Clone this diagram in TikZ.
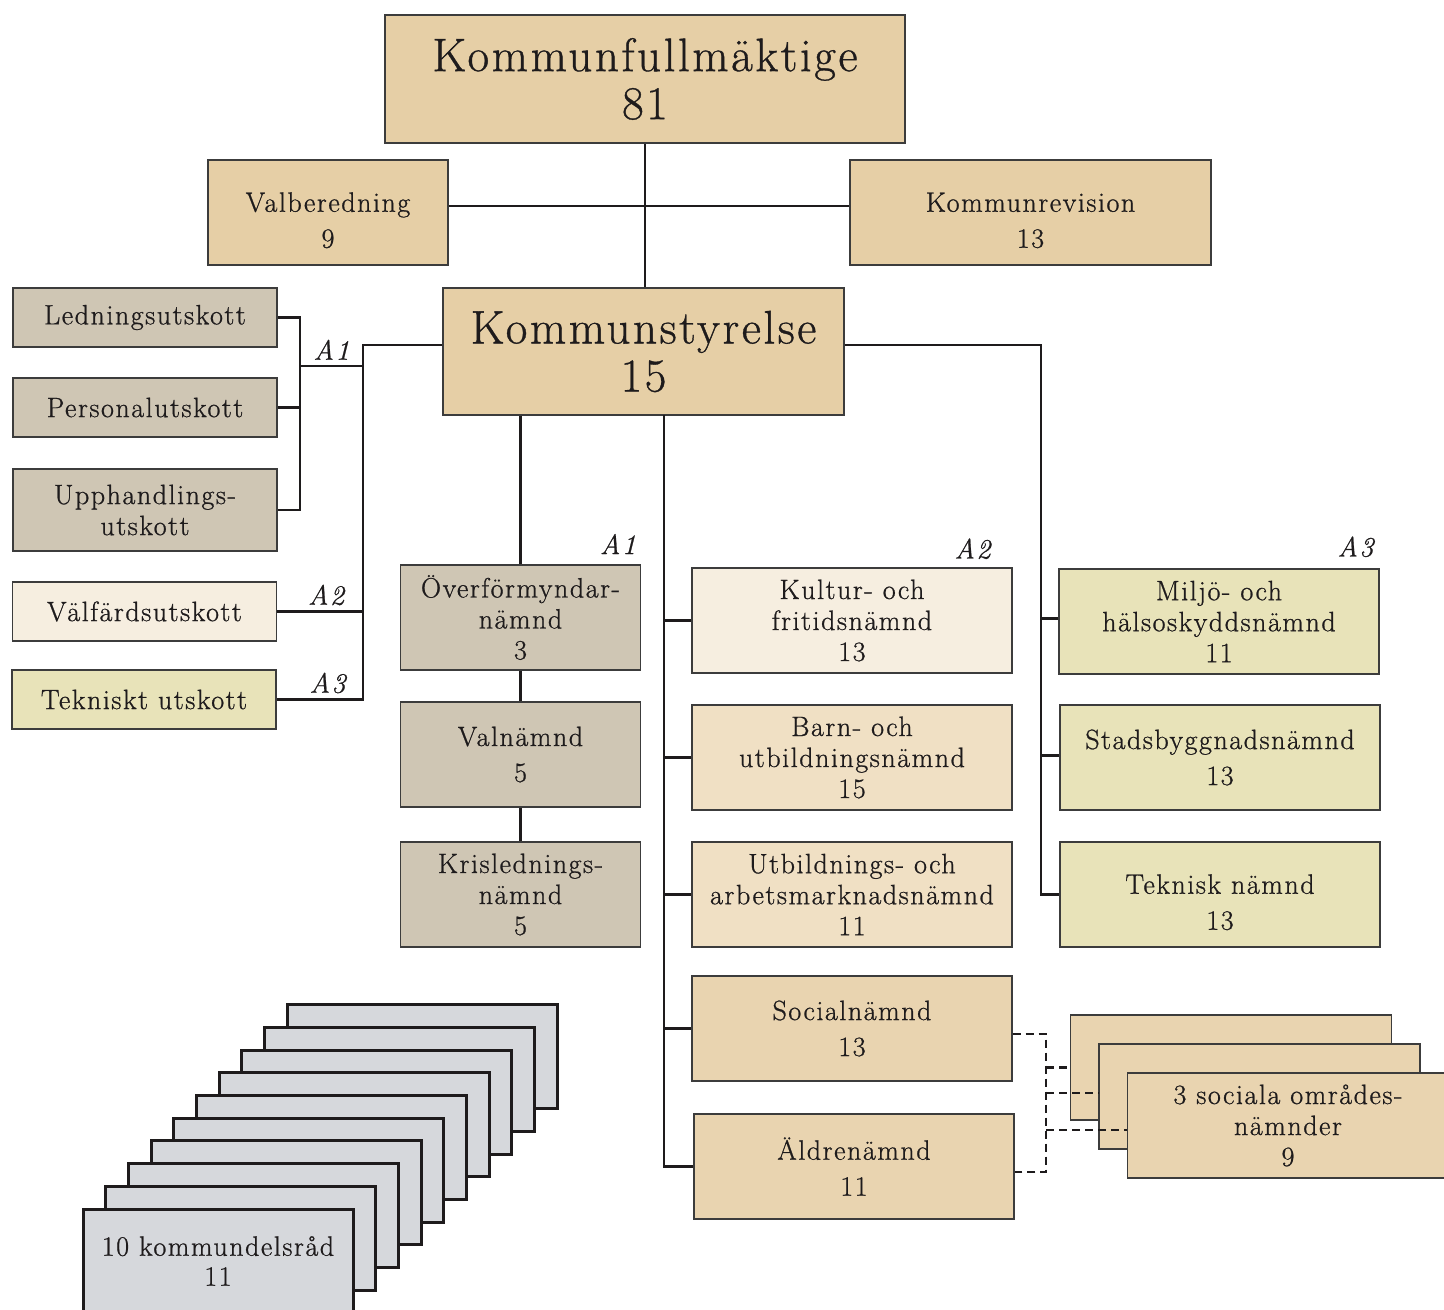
\documentclass[tikz,border=0pt]{standalone}
\usepackage{fontspec}
\setmainfont{Latin Modern Roman}[LetterSpace=5.5, FakeBold=0.8]
\usepackage{tikz}

\definecolor{tanA}{RGB}{230,207,166}
\definecolor{tanB}{RGB}{240,224,196}
\definecolor{tanC}{RGB}{233,212,176}
\definecolor{grayA}{RGB}{207,198,180}
\definecolor{grayB}{RGB}{214,216,220}
\definecolor{creamA}{RGB}{246,238,224}
\definecolor{greenA}{RGB}{232,227,185}
\definecolor{edge}{RGB}{60,60,60}
\definecolor{ink}{RGB}{30,27,28}

\begin{document}
\begin{tikzpicture}[x=1pt, y=-1pt, line width=2.5pt, ink,
  org/.style={draw=edge, line width=1.4pt, inner sep=0pt, align=center, text=ink,
    font=\fontsize{28}{31}\selectfont},
  two/.style={font=\fontsize{28}{36}\selectfont},
  low/.style={text height=71pt},
  big/.style={org, font=\fontsize{47}{48}\selectfont},
  mid/.style={org, minimum width=240pt, minimum height=105pt},
  wide/.style={org, minimum width=320pt, minimum height=105pt},
  utsk/.style={org, minimum width=264pt, minimum height=59pt},
  kdr/.style={draw=ink, line width=3pt, fill=grayB, minimum width=270pt, minimum height=104pt,
    inner sep=0pt, align=center, font=\fontsize{28}{30}\selectfont},
  lbl/.style={font=\fontsize{28}{30}\selectfont\itshape, inner sep=2pt},
  dashlink/.style={dash pattern=on 8pt off 5pt, line width=2.5pt}]
  \useasboundingbox (0,0) rectangle (1444,1310);

  \node[big, fill=tanA, minimum width=520pt, minimum height=128pt] (kf) at (645,79) {Kommunfullmäktige\\81};
  \node[mid, two, low, fill=tanA] (vb) at (328,212.5) {Valberedning\\9};
  \node[org, two, low, fill=tanA, minimum width=361pt, minimum height=105pt] (kr) at (1030.5,212.5) {Kommunrevision\\13};
  \node[big, fill=tanA, minimum width=401pt, minimum height=127pt] (ks) at (643.5,351.5) {Kommunstyrelse\\15};

  \node[utsk, fill=grayA] (ledn) at (145,317.5) {Ledningsutskott};
  \node[utsk, fill=grayA] (pers) at (145,407.5) {Personalutskott};
  \node[utsk, fill=grayA, minimum height=82pt] (upph) at (145,510) {Upphandlings-\\utskott};
  \node[utsk, fill=creamA] (valf) at (144.5,611.5) {Välfärdsutskott};
  \node[utsk, fill=greenA] (tekn) at (144,699.5) {Tekniskt utskott};

  \node[mid, fill=grayA] (ovf) at (520.5,617.5) {Överförmyndar-\\nämnd\\3};
  \node[mid, two, fill=grayA] (valn) at (520.5,754.5) {Valnämnd\\5};
  \node[mid, fill=grayA] (kris) at (520.5,894.5) {Krislednings-\\nämnd\\5};

  \node[wide, fill=creamA] (kult) at (852,620.5) {Kultur- och\\fritidsnämnd\\13};
  \node[wide, fill=tanB] (barn) at (852,757.5) {Barn- och\\utbildningsnämnd\\15};
  \node[wide, fill=tanB] (utb) at (852,894.5) {Utbildnings- och\\arbetsmarknadsnämnd\\11};
  \node[wide, two, fill=tanC] (soc) at (852,1028.5) {Socialnämnd\\13};
  \node[wide, two, fill=tanC] (aldre) at (854,1166.5) {Äldrenämnd\\11};

  \node[wide, fill=greenA] (miljo) at (1219,621.5) {Miljö- och\\hälsoskyddsnämnd\\11};
  \node[wide, two, fill=greenA] (stad) at (1220,757.5) {Stadsbyggnadsnämnd\\13};
  \node[wide, two, low, fill=greenA] (tekn2) at (1220,894.5) {Teknisk nämnd\\13};

  \node[wide, fill=tanC, minimum width=321pt] (so1) at (1231,1067.5) {};
  \node[wide, fill=tanC, minimum width=321pt] (so2) at (1259.5,1096.5) {};
  \node[wide, fill=tanC, minimum width=321pt] (so3) at (1288,1125.5) {3 sociala områdes-\\nämnder\\9};

  \foreach \i in {9,...,1}
    \node[kdr] (kd\i) at ({218+22.7*\i},{1261-22.7*\i}) {};
  \node[kdr] (kd0) at (218,1261) {10 kommundelsråd\\11};

  \coordinate (brA) at (300,366);
  \coordinate (spineL) at (363,345);
  \coordinate (spineR) at (1041,345);
  \coordinate (midc) at (664,415);
  \coordinate (dsp) at (1046,1034);
  \coordinate (socE) at ([yshift=-5.5pt]soc.east);
  \coordinate (aldE) at ([yshift=-5.5pt]aldre.east);

  \draw (kf.south) -- (kf.south |- ks.north);
  \draw ([yshift=6.5pt]vb.east) -- ([yshift=6.5pt]vb.east -| kr.west);

  \draw (ledn.east) -| (upph.east -| brA) -- (upph.east);
  \draw (pers.east) -- (pers.east -| brA);
  \draw (brA) -- (brA -| spineL) node[lbl, midway, above=3pt] {A1};
  \draw ([yshift=6.5pt]ks.west) -| (spineL |- tekn.east) -- (tekn.east) node[lbl, pos=0.41, above=3pt] {A3};
  \draw (valf.east) -- (valf.east -| spineL) node[lbl, pos=0.57, above=3pt] {A2};

  \draw ([yshift=6.5pt]ks.east) -| (spineR |- tekn2.west) -- (tekn2.west);
  \draw ([yshift=3pt]miljo.west) -- ([yshift=3pt]miljo.west -| spineR);
  \draw ([yshift=2pt]stad.west) -- ([yshift=2pt]stad.west -| spineR);

  \draw (ks.south -| ovf.north) -- (ovf.north);
  \draw (ovf.south) -- (valn.north);
  \draw (valn.south) -- (kris.north);
  \draw (midc) |- (aldre.west);
  \foreach \n in {kult,barn,utb,soc}
    \draw (midc |- \n.west) -- (\n.west);

  \draw[dashlink] (socE) -| (dsp |- aldE) -- (aldE);
  \draw[dashlink] (dsp |- so1.west) -- (so1.west);
  \draw[dashlink] ([yshift=3.5pt]dsp |- so2.west) -- ([yshift=3.5pt]so2.west);
  \draw[dashlink] ([yshift=-4.5pt]dsp |- so3.west) -- ([yshift=-4.5pt]so3.west);

  \node[lbl, anchor=south east] at ([xshift=-2pt, yshift=7pt]ovf.north east) {A1};
  \node[lbl, anchor=south east] at ([xshift=-19pt, yshift=5pt]kult.north east) {A2};
  \node[lbl, anchor=south east] at ([xshift=-3pt, yshift=8pt]miljo.north east) {A3};
\end{tikzpicture}
\end{document}
